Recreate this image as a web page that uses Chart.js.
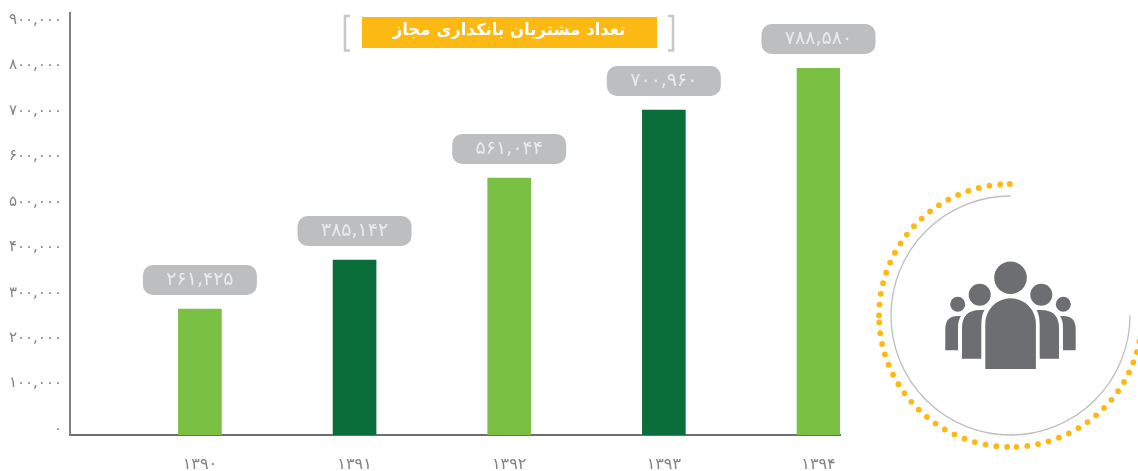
<!DOCTYPE html>
<html>
<head>
<meta charset="utf-8">
<script src="https://cdn.jsdelivr.net/npm/chart.js@4/dist/chart.umd.js"></script>
<style>
    html, body { margin: 0; padding: 0; background: #fff; }
    canvas { display: block; }
</style>
</head>
<body>
<canvas id="customers" width="1138" height="471"></canvas>
<script>
const titleText = "تعداد مشتریان بانکداری مجاز"
const years = ["۱۳۹۰", "۱۳۹۱", "۱۳۹۲", "۱۳۹۳", "۱۳۹۴"]
const barValues = [264000, 372000, 552000, 702000, 794000]
const valueLabels = ["۲۶۱,۴۲۵", "۳۸۵,۱۴۲", "۵۶۱,۰۴۴", "۷۰۰,۹۶۰", "۷۸۸,۵۸۰"]
const barColors = ["#7ac143", "#0a6e3a", "#7ac143", "#0a6e3a", "#7ac143"]
const yTicks = [0, 100000, 200000, 300000, 400000, 500000, 600000, 700000, 800000, 900000]
const yTickLabels = ["۰", "۱۰۰,۰۰۰", "۲۰۰,۰۰۰", "۳۰۰,۰۰۰", "۴۰۰,۰۰۰", "۵۰۰,۰۰۰", "۶۰۰,۰۰۰", "۷۰۰,۰۰۰", "۸۰۰,۰۰۰", "۹۰۰,۰۰۰"]

const FONT = '"DejaVu Sans", sans-serif'
const Y_MIN = -13200
const GREY_ICON = "#6d6e71"
const YELLOW = "#fdb913"

function RoundRect(ctx, x, y, w, h, r){
    ctx.beginPath()
    ctx.roundRect(x, y, w, h, r)
    ctx.fill()
}

// value pills above the bars
const pillPlugin = {
    id: "pills",
    afterDatasetsDraw(chart){
        const ctx = chart.ctx
        ctx.save()
        chart.getDatasetMeta(0).data.forEach(function(bar, i){
            const top = Math.round(bar.y) - 44
            ctx.fillStyle = "#bcbec0"
            RoundRect(ctx, bar.x - 57, top, 114, 30, 10)
            ctx.fillStyle = "#e9eaeb"
            ctx.font = "19px " + FONT
            ctx.textAlign = "center"
            ctx.textBaseline = "middle"
            ctx.fillText(valueLabels[i], bar.x, top + 15)
        })
        ctx.restore()
    }
}

// title banner with the grey brackets
const bannerPlugin = {
    id: "banner",
    afterDraw(chart){
        const ctx = chart.ctx
        ctx.save()
        ctx.fillStyle = YELLOW
        ctx.fillRect(362, 17, 295, 31)
        ctx.fillStyle = "#fff"
        ctx.font = "bold 16.5px " + FONT
        ctx.textAlign = "center"
        ctx.textBaseline = "middle"
        ctx.direction = "rtl"
        ctx.fillText(titleText, 509, 31)
        ctx.strokeStyle = "#c7c8ca"
        ctx.lineWidth = 2.5
        ctx.beginPath()
        ctx.moveTo(350, 16); ctx.lineTo(345, 16); ctx.lineTo(345, 50.5); ctx.lineTo(350, 50.5)
        ctx.moveTo(668, 16); ctx.lineTo(673, 16); ctx.lineTo(673, 50.5); ctx.lineTo(668, 50.5)
        ctx.stroke()
        ctx.restore()
    }
}

function DrawBody(ctx, mirror){
    const m = function(x){ return mirror ? 2 * 1010.5 - x : x }
    // middle person
    ctx.beginPath()
    ctx.moveTo(m(962), 358.7)
    ctx.lineTo(m(962), 328)
    ctx.quadraticCurveTo(m(962), 310, m(980), 310)
    ctx.lineTo(m(984.5), 310)
    ctx.quadraticCurveTo(m(981.3), 315, m(981.3), 325)
    ctx.lineTo(m(981.3), 358.7)
    ctx.closePath()
    ctx.fill()
    // outer person
    ctx.beginPath()
    ctx.moveTo(m(945.3), 350.3)
    ctx.lineTo(m(945.3), 329)
    ctx.quadraticCurveTo(m(945.3), 316, m(958), 316)
    ctx.lineTo(m(961), 316)
    ctx.quadraticCurveTo(m(958), 320, m(958), 328)
    ctx.lineTo(m(958), 350.3)
    ctx.closePath()
    ctx.fill()
}

// people icon with the ring and the dotted ring
const iconPlugin = {
    id: "icon",
    afterDraw(chart){
        const ctx = chart.ctx
        const cx = 1010.5
        const cy = 315.5
        const deg = Math.PI / 180
        ctx.save()

        ctx.strokeStyle = "#bcbec0"
        ctx.lineWidth = 1.3
        ctx.beginPath()
        ctx.arc(cx, cy, 119.5, -90 * deg, 0, true)
        ctx.stroke()

        ctx.strokeStyle = YELLOW
        ctx.lineWidth = 5.8
        ctx.lineCap = "round"
        ctx.setLineDash([0, 10.9])
        const dotted = [[180, 270, false], [269.7, 270, false], [177, 90, true], [87.4, 0, true]]
        dotted.forEach(function(a){
            ctx.beginPath()
            ctx.arc(cx, cy, 131.5, a[0] * deg, a[1] * deg, a[2])
            ctx.stroke()
        })
        ctx.setLineDash([])

        ctx.fillStyle = GREY_ICON
        const heads = [[1010.5, 277.7, 16.3], [979.7, 294.7, 11], [1041.3, 294.7, 11], [957.7, 304.3, 7.5], [1063.3, 304.3, 7.5]]
        heads.forEach(function(h){
            ctx.beginPath()
            ctx.arc(h[0], h[1], h[2], 0, Math.PI * 2)
            ctx.fill()
        })
        ctx.beginPath()
        ctx.moveTo(985.3, 369)
        ctx.lineTo(985.3, 323.6)
        ctx.arc(1010.6, 323.6, 25.3, Math.PI, 0)
        ctx.lineTo(1035.9, 369)
        ctx.closePath()
        ctx.fill()
        DrawBody(ctx, false)
        DrawBody(ctx, true)
        ctx.restore()
    }
}

function NoPadding(axis){
    axis.paddingTop = 0
    axis.paddingBottom = 0
    axis.paddingLeft = 0
    axis.paddingRight = 0
}

const chart = new Chart(document.getElementById("customers"), {
    type: "bar",
    data: {
        datasets: [{
            data: barValues.map(function(v, i){ return { x: i, y: v } }),
            backgroundColor: barColors,
            barThickness: 43,
            base: Y_MIN
        }]
    },
    options: {
        responsive: false,
        animation: false,
        layout: { padding: { top: 13, right: 298, left: 0, bottom: 0 } },
        plugins: {
            legend: { display: false },
            tooltip: { enabled: false },
            title: { display: false }
        },
        scales: {
            x: {
                type: "linear",
                offset: false,
                min: -0.84,
                max: 4.139,
                grid: { display: false, drawTicks: false },
                border: { color: "#6d6e71", width: 2 },
                afterBuildTicks: function(axis){
                    axis.ticks = years.map(function(y, i){ return { value: i } })
                },
                afterFit: function(axis){
                    axis.height = 36
                    NoPadding(axis)
                },
                ticks: {
                    autoSkip: false,
                    maxRotation: 0,
                    padding: 20,
                    color: "#808285",
                    font: { family: FONT, size: 16 },
                    callback: function(value){ return years[value] }
                }
            },
            y: {
                min: Y_MIN,
                max: 915500,
                grid: { display: false, drawTicks: false },
                border: { color: "#808285", width: 2 },
                afterBuildTicks: function(axis){
                    axis.ticks = yTicks.map(function(v){ return { value: v } })
                },
                afterFit: function(axis){
                    axis.width = 70
                    NoPadding(axis)
                },
                ticks: {
                    autoSkip: false,
                    padding: 8,
                    color: "#808285",
                    font: { family: FONT, size: 15 },
                    callback: function(value){ return yTickLabels[yTicks.indexOf(value)] }
                }
            }
        }
    },
    plugins: [pillPlugin, bannerPlugin, iconPlugin]
})
</script>
</body>
</html>
